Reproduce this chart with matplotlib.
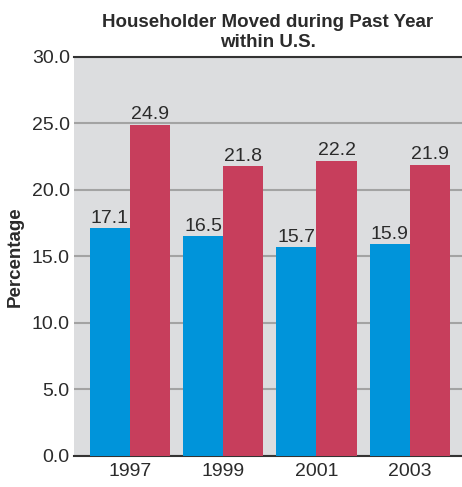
import numpy as np
import matplotlib.pyplot as plt

# ---- DATA ----
years = ["1997", "1999", "2001", "2003"]
series_a = [17.1, 16.5, 15.7, 15.9]
series_b = [24.9, 21.8, 22.2, 21.9]
yticks = [0, 5, 10, 15, 20, 25, 30]

BLUE = "#0094da"
RED = "#c73e5c"
BG = "#dcdddf"
TXT = "#2b2b2b"

plt.rcParams["font.family"] = ["Liberation Sans", "DejaVu Sans"]

fig = plt.figure(figsize=(4.62, 4.87), dpi=100)
ax = fig.add_axes([0.160, 0.064, 0.840, 0.819])
ax.set_facecolor(BG)

x = np.arange(len(years))
w = 0.43
bars_a = ax.bar(x - w / 2, series_a, w, color=BLUE, zorder=3)
bars_b = ax.bar(x + w / 2, series_b, w, color=RED, zorder=3)

for bars in (bars_a, bars_b):
    for b in bars:
        ax.text(b.get_x() + b.get_width() / 2, b.get_height() + 0.1,
                f"{b.get_height():.1f}", ha="center", va="bottom",
                fontsize=14, color=TXT, zorder=4)

ax.set_xlim(-0.6, 3.56)
ax.set_ylim(0, 30)
ax.set_yticks(yticks)
ax.set_yticklabels([f"{v:.1f}" for v in yticks], fontsize=14, color=TXT)
ax.set_xticks(x)
ax.set_xticklabels(years, fontsize=14, color=TXT)
ax.tick_params(length=0, pad=3)
ax.tick_params(axis="x", pad=5)
ax.yaxis.grid(True, color="#a3a3a3", linewidth=1.5, zorder=1)
ax.set_axisbelow(True)

for s in ("left", "right"):
    ax.spines[s].set_visible(False)
ax.spines["top"].set_color("#333333")
ax.spines["top"].set_linewidth(1.5)
ax.spines["bottom"].set_color("#333333")
ax.spines["bottom"].set_linewidth(1.5)

ax.set_ylabel("Percentage", fontsize=13.5, fontweight="bold", color=TXT, labelpad=6)
ax.set_title("Householder Moved during Past Year\nwithin U.S.",
             fontsize=13.5, fontweight="bold", color=TXT, pad=7, linespacing=1.25)

fig.savefig("out.png", dpi=100)
